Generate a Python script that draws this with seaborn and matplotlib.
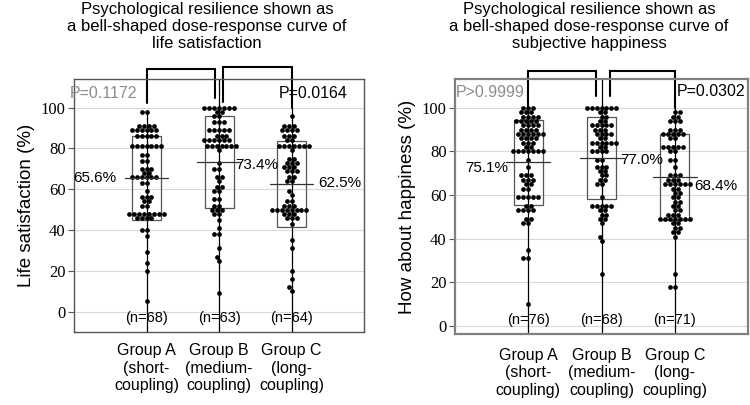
import numpy as np
import pandas as pd
import seaborn as sns
import matplotlib.pyplot as plt
from matplotlib.patches import Rectangle

groups = ['A', 'B', 'C']
tick_labels = ['Group A\n(short-\ncoupling)', 'Group B\n(medium-\ncoupling)', 'Group C\n(long-\ncoupling)']

# life satisfaction: score levels and number of subjects on each level
ls_a_vals = [98, 91, 89, 86, 81, 77, 74, 70, 68, 66, 63, 59, 56, 54, 52, 48, 46, 40, 37, 29, 24, 20, 5]
ls_a_cnt = [2, 4, 6, 5, 7, 2, 2, 3, 2, 6, 2, 1, 3, 2, 2, 8, 4, 2, 1, 1, 1, 1, 1]
ls_b_vals = [100, 98, 96, 93, 89, 86, 84, 81, 79, 73, 70, 66, 64, 61, 59, 55, 52, 50, 48, 45, 41, 38, 31, 27, 25, 9]
ls_b_cnt = [7, 2, 2, 3, 5, 3, 6, 7, 1, 1, 2, 2, 1, 2, 2, 2, 2, 3, 2, 1, 1, 2, 1, 1, 1, 1]
ls_c_vals = [96, 91, 89, 86, 84, 81, 79, 75, 73, 71, 69, 66, 64, 59, 57, 54, 52, 50, 48, 46, 43, 35, 31, 20, 16, 12, 10]
ls_c_cnt = [1, 3, 4, 3, 2, 7, 1, 2, 3, 3, 3, 2, 2, 1, 1, 2, 3, 8, 3, 3, 1, 1, 1, 1, 1, 1, 1]
ls_means = [65.6, 73.4, 62.5]
ls_q1 = [44.8, 51.0, 41.5]
ls_q3 = [86.3, 95.9, 83.5]
ls_n = [68, 63, 64]
ls_p = ['P=0.1172', 'P=0.0164']

# subjective happiness
hp_a_vals = [100, 98, 96, 94, 92, 90, 88, 86, 84, 82, 80, 76, 73, 69, 67, 65, 63, 59, 55, 53, 49, 47, 35, 31, 10]
hp_a_cnt = [3, 3, 4, 5, 4, 4, 6, 4, 3, 2, 7, 1, 1, 3, 3, 2, 2, 5, 2, 4, 2, 2, 1, 2, 1]
hp_b_vals = [100, 98, 96, 94, 92, 90, 88, 86, 84, 82, 80, 76, 73, 71, 69, 67, 65, 59, 55, 53, 51, 49, 47, 41, 39, 24]
hp_b_cnt = [7, 2, 2, 2, 5, 3, 4, 2, 6, 2, 4, 2, 3, 2, 2, 2, 2, 1, 5, 2, 2, 2, 1, 1, 1, 1]
hp_c_vals = [98, 96, 94, 90, 88, 86, 82, 80, 76, 73, 69, 67, 65, 63, 61, 59, 57, 55, 53, 51, 49, 47, 45, 43, 41, 24, 18]
hp_c_cnt = [2, 2, 3, 3, 5, 2, 5, 2, 2, 1, 3, 3, 6, 2, 2, 2, 2, 2, 2, 3, 7, 2, 2, 2, 1, 1, 2]
hp_means = [75.1, 77.0, 68.4]
hp_q1 = [55.3, 58.0, 48.4]
hp_q3 = [94.6, 95.9, 88.2]
hp_n = [76, 68, 71]
hp_p = ['P>0.9999', 'P=0.0302']


def make_df(vals, cnts):
    rows = []
    for g, v, c in zip(groups, vals, cnts):
        rows.append(pd.DataFrame({'group': g, 'score': np.repeat(v, c)}))
    return pd.concat(rows, ignore_index=True)


sns.set_style('white')
plt.rcParams['font.family'] = ['Liberation Sans', 'DejaVu Sans']
plt.rcParams.update({'text.color': 'black', 'axes.labelcolor': 'black',
                     'xtick.color': 'black', 'ytick.color': 'black'})

fig = plt.figure(figsize=(7.5, 4.05), dpi=100)
ax1 = fig.add_axes([0.0987, 0.180, 0.3867, 0.625])
ax2 = fig.add_axes([0.6067, 0.1753, 0.3907, 0.630])

panels = [
    dict(ax=ax1, df=make_df([ls_a_vals, ls_b_vals, ls_c_vals], [ls_a_cnt, ls_b_cnt, ls_c_cnt]),
         means=ls_means, q1=ls_q1, q3=ls_q3, n=ls_n, p=ls_p, ylim=(-10, 114),
         ylabel='Life satisfaction (%)', line_top=[98, 114, 100],
         brackets=[(0, 0.94, 102, 104.5, 119), (1.05, 2.0, 102.5, 100, 120)],
         mean_txt=[(-0.42, 65.6, 'right'), (1.22, 71.7, 'left'), (2.37, 63.2, 'left')],
         p_pos=[(-1.06, 107), (1.82, 107)], n_y=-3, spine=('#555555', 1.0), pad=8,
         title='Psychological resilience shown as\na bell-shaped dose-response curve of\nlife satisfaction',
         title_x=207),
    dict(ax=ax2, df=make_df([hp_a_vals, hp_b_vals, hp_c_vals], [hp_a_cnt, hp_b_cnt, hp_c_cnt]),
         means=hp_means, q1=hp_q1, q3=hp_q3, n=hp_n, p=hp_p, ylim=(-3.7, 113.3),
         ylabel='How about happiness (%)', line_top=[100, 113.3, 100],
         brackets=[(0, 0.925, 100, 105.6, 117), (1.11, 2.0, 105.6, 100, 117)],
         mean_txt=[(-0.28, 72.3, 'right'), (1.25, 76.3, 'left'), (2.27, 64.3, 'left')],
         p_pos=[(-0.99, 106.9), (2.03, 107.7)], n_y=2.5, spine=('#808080', 1.6), pad=10,
         title='Psychological resilience shown as\na bell-shaped dose-response curve of\nsubjective happiness',
         title_x=589),
]

for pn in panels:
    ax = pn['ax']
    ymin = pn['ylim'][0]
    ax.set_axisbelow(True)
    ax.yaxis.grid(True, color='#d9d9d9', lw=0.8)

    # vertical range line behind each group
    for i in range(3):
        ax.plot([i, i], [ymin, pn['line_top'][i]], color='black', lw=0.9, zorder=1)
        ax.add_patch(Rectangle((i - 0.2, pn['q1'][i]), 0.4, pn['q3'][i] - pn['q1'][i],
                               fill=False, ec='#555555', lw=0.9, zorder=1.5))

    sns.swarmplot(data=pn['df'], x='group', y='score', order=groups, ax=ax,
                  color='black', size=3.4, linewidth=0, zorder=3)

    for i in range(3):
        ax.plot([i - 0.3, i + 0.3], [pn['means'][i]] * 2, color='#333333', lw=0.9, zorder=4)
        ax.text(i, pn['n_y'], '(n=%d)' % pn['n'][i], ha='center', va='center', fontsize=10.5, zorder=5)
        tx, ty, ha = pn['mean_txt'][i]
        ax.text(tx, ty, '%.1f%%' % pn['means'][i], ha=ha, va='center', fontsize=11, zorder=5)

    ax.text(pn['p_pos'][0][0], pn['p_pos'][0][1], pn['p'][0], color='#8c8c8c', fontsize=11.5,
            ha='left', va='center', clip_on=False)
    ax.text(pn['p_pos'][1][0], pn['p_pos'][1][1], pn['p'][1], color='black', fontsize=11.5,
            ha='left', va='center', clip_on=False)

    for x0, x1, y0, y1, top in pn['brackets']:
        ax.plot([x0, x0, x1, x1], [y0, top, top, y1], color='black', lw=1.5, clip_on=False,
                solid_joinstyle='miter')

    ax.set_xlim(-1, 3)
    ax.set_ylim(*pn['ylim'])
    ax.set_yticks(range(0, 101, 20))
    ax.tick_params(axis='y', labelfontfamily='Liberation Serif', labelsize=12)
    ax.set_xticks(range(3))
    ax.set_xticklabels(tick_labels, fontsize=11.5, linespacing=1.2)
    ax.tick_params(axis='x', length=0, pad=pn['pad'])
    ax.tick_params(axis='y', length=4, width=0.8, color='#555555', left=True, pad=2)
    ax.set_xlabel('')
    ax.set_ylabel(pn['ylabel'], fontsize=13.5, labelpad=4)
    for s in ax.spines.values():
        s.set_color(pn['spine'][0])
        s.set_linewidth(pn['spine'][1])

    fig.text(pn['title_x'] / 750, 1 - 2 / 405, pn['title'], ha='center', va='top',
             fontsize=12, linespacing=1.15)

fig.savefig('out.png', dpi=100)
